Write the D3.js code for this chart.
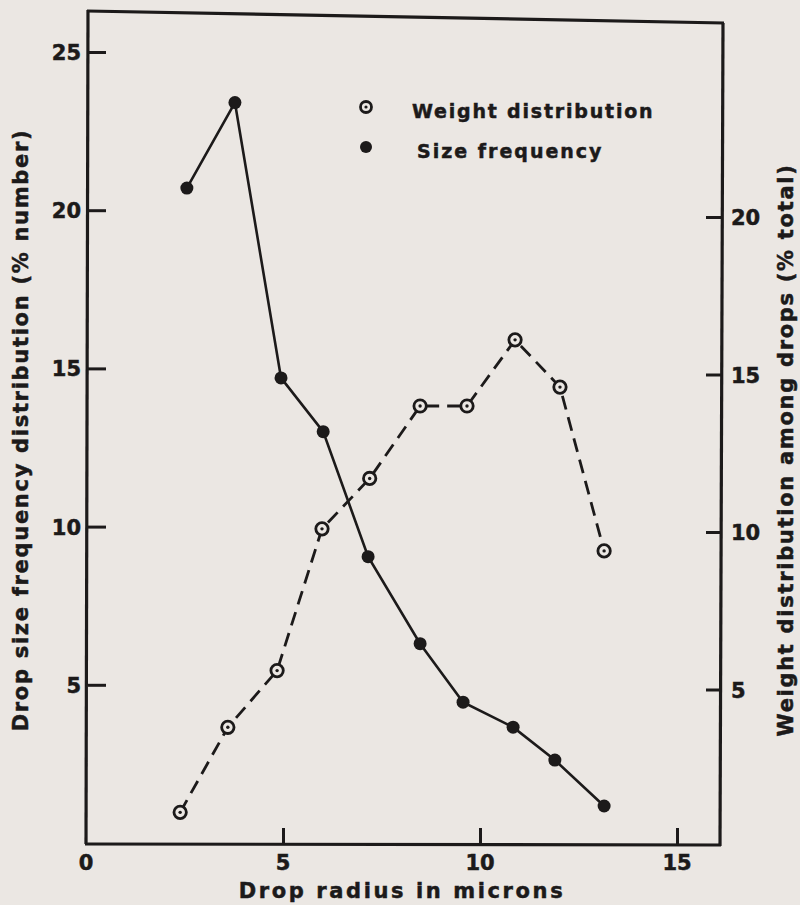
<!DOCTYPE html>
<html>
<head>
<meta charset="utf-8">
<script src="https://cdn.jsdelivr.net/npm/d3@7"></script>
<style>
  body { margin: 0; background: #ebe7e3; }
  svg { display: block; }
  text { font-family: "DejaVu Sans", sans-serif; font-weight: bold; fill: #1c1a1a; stroke: #1c1a1a; stroke-width: 0.5px; }
</style>
</head>
<body>
<svg id="chart"></svg>
<script>
// size frequency (% number), solid line, filled dots
var sizeRadius = [2.56, 3.78, 4.95, 6.02, 7.16, 8.48, 9.57, 10.84, 11.9, 13.15]
var sizeFreq   = [20.7, 23.4, 14.7, 13.0, 9.05, 6.3, 4.45, 3.66, 2.62, 1.17]

// weight distribution (% total), dashed line, open dots
var weightRadius = [2.39, 3.6, 4.85, 5.99, 7.2, 8.48, 9.67, 10.89, 12.03, 13.15]
var weightDist   = [1.1, 3.8, 5.6, 10.1, 11.7, 14.0, 14.0, 16.1, 14.6, 9.4]

var xTicks = [0, 5, 10, 15]
var leftTicks = [5, 10, 15, 20, 25]
var rightTicks = [5, 10, 15, 20]

var dimensions = {
    width: 800,
    height: 905,
    left: 88,
    right: 721,
    top: 12,
    bottom: 844
}
var ink = "#1c1a1a"
var paper = "#ebe7e3"

var svg = d3.select("#chart")
    .attr("width", dimensions.width)
    .attr("height", dimensions.height)

var xScale = d3.scaleLinear().domain([0, 15]).range([86, 677])
var yLeft = d3.scaleLinear().domain([0, 25]).range([843, 52])
var yRight = d3.scaleLinear().domain([0, 20]).range([847, 217])

// frame
var frame = svg.append("g")
    .attr("stroke", ink)
    .attr("stroke-width", 3.2)
    .attr("fill", "none")
frame.append("line").attr("x1", dimensions.left).attr("y1", dimensions.top - 2)
    .attr("x2", dimensions.left - 2).attr("y2", dimensions.bottom)
frame.append("line").attr("x1", dimensions.left - 3).attr("y1", dimensions.bottom)
    .attr("x2", dimensions.right).attr("y2", dimensions.bottom + 1)
frame.append("line").attr("x1", dimensions.right + 2).attr("y1", dimensions.top + 11)
    .attr("x2", dimensions.right - 1).attr("y2", dimensions.bottom + 2)
frame.append("line").attr("x1", dimensions.left - 1).attr("y1", dimensions.top - 1)
    .attr("x2", dimensions.right + 3).attr("y2", dimensions.top + 11)

// x axis (ticks pointing up)
var xAxisGen = d3.axisTop(xScale).tickValues(xTicks).tickSize(16).tickFormat("")
svg.append("g")
    .attr("transform", `translate(0, ${dimensions.bottom})`)
    .call(xAxisGen)
    .call(g => g.select(".domain").remove())
    .call(g => g.selectAll(".tick line").attr("stroke", ink).attr("stroke-width", 3))
    .call(g => g.selectAll(".tick").filter(d => d == 0).remove())
svg.append("g").selectAll("text")
    .data(xTicks)
    .enter()
    .append("text")
    .attr("x", d => xScale(d))
    .attr("y", 870)
    .attr("text-anchor", "middle")
    .style("font-size", "21px")
    .text(d => d)

// left axis (ticks inside)
var yLeftGen = d3.axisRight(yLeft).tickValues(leftTicks).tickSize(18).tickFormat("")
svg.append("g")
    .attr("transform", `translate(${dimensions.left}, 0)`)
    .call(yLeftGen)
    .call(g => g.select(".domain").remove())
    .call(g => g.selectAll(".tick line").attr("stroke", ink).attr("stroke-width", 3))
svg.append("g").selectAll("text")
    .data(leftTicks)
    .enter()
    .append("text")
    .attr("x", 81)
    .attr("y", d => yLeft(d) + 8)
    .attr("text-anchor", "end")
    .style("font-size", "21px")
    .text(d => d)

// right axis (ticks inside)
var yRightGen = d3.axisLeft(yRight).tickValues(rightTicks).tickSize(16).tickFormat("")
svg.append("g")
    .attr("transform", `translate(${dimensions.right + 1}, 0)`)
    .call(yRightGen)
    .call(g => g.select(".domain").remove())
    .call(g => g.selectAll(".tick line").attr("stroke", ink).attr("stroke-width", 3))
svg.append("g").selectAll("text")
    .data(rightTicks)
    .enter()
    .append("text")
    .attr("x", 731)
    .attr("y", d => yRight(d) + 8)
    .attr("text-anchor", "start")
    .style("font-size", "21px")
    .text(d => d)

// axis titles
svg.append("text")
    .attr("x", 402)
    .attr("y", 898)
    .attr("text-anchor", "middle")
    .style("font-size", "21px")
    .style("letter-spacing", "2.6px")
    .text("Drop radius in microns")

svg.append("text")
    .attr("transform", "translate(28, 430) rotate(-90)")
    .attr("text-anchor", "middle")
    .style("font-size", "21px")
    .style("letter-spacing", "1.7px")
    .text("Drop size frequency distribution (% number)")

svg.append("text")
    .attr("transform", "translate(793, 450) rotate(-90)")
    .attr("text-anchor", "middle")
    .style("font-size", "21px")
    .style("letter-spacing", "1.7px")
    .text("Weight distribution among drops (% total)")

// size frequency line
var sizeData = sizeRadius.map((r, i) => ({ x: r, y: sizeFreq[i] }))
var weightData = weightRadius.map((r, i) => ({ x: r, y: weightDist[i] }))

svg.append("path")
    .datum(sizeData)
    .attr("fill", "none")
    .attr("stroke", ink)
    .attr("stroke-width", 2.6)
    .attr("d", d3.line().x(d => xScale(d.x)).y(d => yLeft(d.y)))

svg.append("g").selectAll("circle")
    .data(sizeData)
    .enter()
    .append("circle")
    .attr("cx", d => xScale(d.x))
    .attr("cy", d => yLeft(d.y))
    .attr("r", 6.5)
    .attr("fill", ink)

// weight distribution dashed line
svg.append("path")
    .datum(weightData)
    .attr("fill", "none")
    .attr("stroke", ink)
    .attr("stroke-width", 2.8)
    .attr("stroke-dasharray", "14 8")
    .attr("d", d3.line().x(d => xScale(d.x)).y(d => yRight(d.y)))

var openDots = svg.append("g").selectAll("g")
    .data(weightData)
    .enter()
    .append("g")
    .attr("transform", d => `translate(${xScale(d.x)}, ${yRight(d.y)})`)
openDots.append("circle")
    .attr("r", 6.2)
    .attr("fill", paper)
    .attr("stroke", ink)
    .attr("stroke-width", 2.8)
openDots.append("circle")
    .attr("r", 1.7)
    .attr("fill", ink)

// legend
var legend = svg.append("g")
legend.append("circle").attr("cx", 366).attr("cy", 107).attr("r", 5.5)
    .attr("fill", paper).attr("stroke", ink).attr("stroke-width", 2.8)
legend.append("circle").attr("cx", 366).attr("cy", 107).attr("r", 1.6).attr("fill", ink)
legend.append("circle").attr("cx", 366).attr("cy", 147).attr("r", 6).attr("fill", ink)
legend.append("text")
    .attr("x", 412).attr("y", 118)
    .style("font-size", "19px")
    .style("letter-spacing", "1.8px")
    .text("Weight distribution")
legend.append("text")
    .attr("x", 417).attr("y", 158)
    .style("font-size", "19px")
    .style("letter-spacing", "2px")
    .text("Size frequency")
</script>
</body>
</html>
